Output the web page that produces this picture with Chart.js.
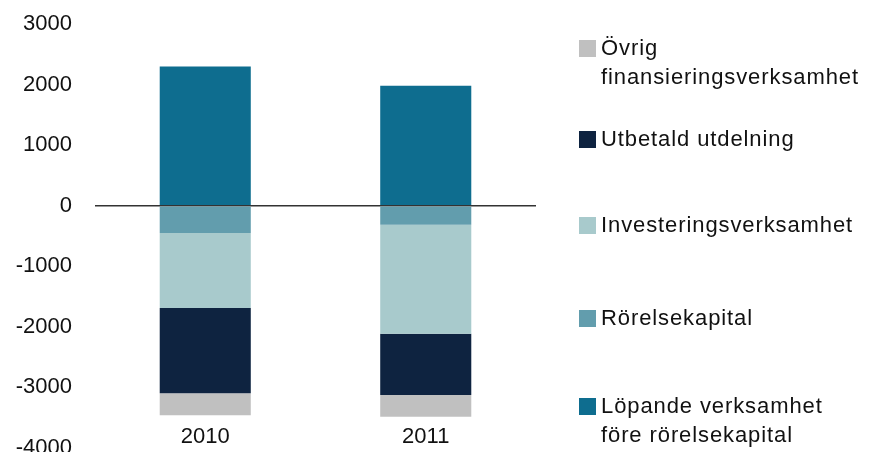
<!DOCTYPE html>
<html>
<head>
<meta charset="utf-8">
<script src="https://cdn.jsdelivr.net/npm/chart.js@4"></script>
<style>
  body { margin: 0; background: #fff; }
  #wrap { position: relative; width: 874px; height: 452px; }
  #legend { position: absolute; left: 0; top: 0; font-family: "Liberation Sans", Arial, sans-serif; font-size: 22px; color: #111; letter-spacing: 0.9px; }
  .item { position: absolute; left: 579px; white-space: nowrap; line-height: 29px; }
  .sw { position: absolute; left: 0; top: 7px; width: 17px; height: 17px; }
  .txt { position: absolute; left: 22px; top: 0; }
</style>
</head>
<body>
<div id="wrap">
  <canvas id="chart" width="874" height="452"></canvas>
  <div id="legend"></div>
</div>
<script>
const years = ['2010', '2011'];
const seriesNames = ['Löpande verksamhet\nföre rörelsekapital', 'Rörelsekapital', 'Investeringsverksamhet', 'Utbetald utdelning', 'Övrig\nfinansieringsverksamhet'];
const lopande = [2300, 1980];
const rorelse = [-450, -315];
const invest = [-1240, -1800];
const utdelning = [-1405, -1010];
const ovrig = [-365, -360];
const yTicks = [3000, 2000, 1000, 0, -1000, -2000, -3000, -4000];

const colors = ['#0e6d8f', '#629dad', '#a8cacc', '#0e2340', '#c0c0c0'];
const values = [lopande, rorelse, invest, utdelning, ovrig];
// legend top (y of first line) for each series, same order as seriesNames
const legendTops = [391, 303, 210, 124, 33];

const yearLabels = {
    id: 'yearLabels',
    afterDraw(chart) {
        const c = chart.ctx;
        const xs = chart.scales.x;
        c.save();
        c.font = '22px "Liberation Sans", Arial, sans-serif';
        c.fillStyle = '#111';
        c.textAlign = 'center';
        c.textBaseline = 'middle';
        years.forEach((y, i) => c.fillText(y, xs.getPixelForValue(i), 437));
        c.restore();
    }
};

new Chart(document.getElementById('chart').getContext('2d'), {
    type: 'bar',
    data: {
        labels: years,
        datasets: seriesNames.map((n, i) => ({
            label: n,
            data: values[i],
            backgroundColor: colors[i],
            borderWidth: 0,
            barPercentage: 1,
            categoryPercentage: 0.413
        }))
    },
    options: {
        responsive: false,
        animation: false,
        layout: { padding: { top: 24, bottom: 4, right: 338, left: 0 } },
        plugins: { legend: { display: false }, tooltip: { enabled: false } },
        scales: {
            x: { stacked: true, display: false },
            y: {
                stacked: true,
                min: -4000,
                max: 3000,
                afterBuildTicks: s => { s.ticks = yTicks.map(v => ({ value: v })); },
                afterFit: s => { s.width = 95; s.paddingTop = 0; s.paddingBottom = 0; },
                border: { display: false },
                grid: {
                    drawTicks: false,
                    lineWidth: 1.5,
                    color: c => c.tick && c.tick.value === 0 ? '#333' : 'rgba(0,0,0,0)'
                },
                ticks: {
                    padding: 23,
                    color: '#111',
                    callback: v => String(v),
                    font: { family: '"Liberation Sans", Arial, sans-serif', size: 22 }
                }
            }
        }
    },
    plugins: [yearLabels]
});

const leg = document.getElementById('legend');
seriesNames.forEach((n, i) => {
    const d = document.createElement('div');
    d.className = 'item';
    d.style.top = legendTops[i] + 'px';
    const sw = document.createElement('div');
    sw.className = 'sw';
    sw.style.background = colors[i];
    const t = document.createElement('div');
    t.className = 'txt';
    t.innerHTML = n.split('\n').join('<br>');
    d.appendChild(sw);
    d.appendChild(t);
    leg.appendChild(d);
});
</script>
</body>
</html>
